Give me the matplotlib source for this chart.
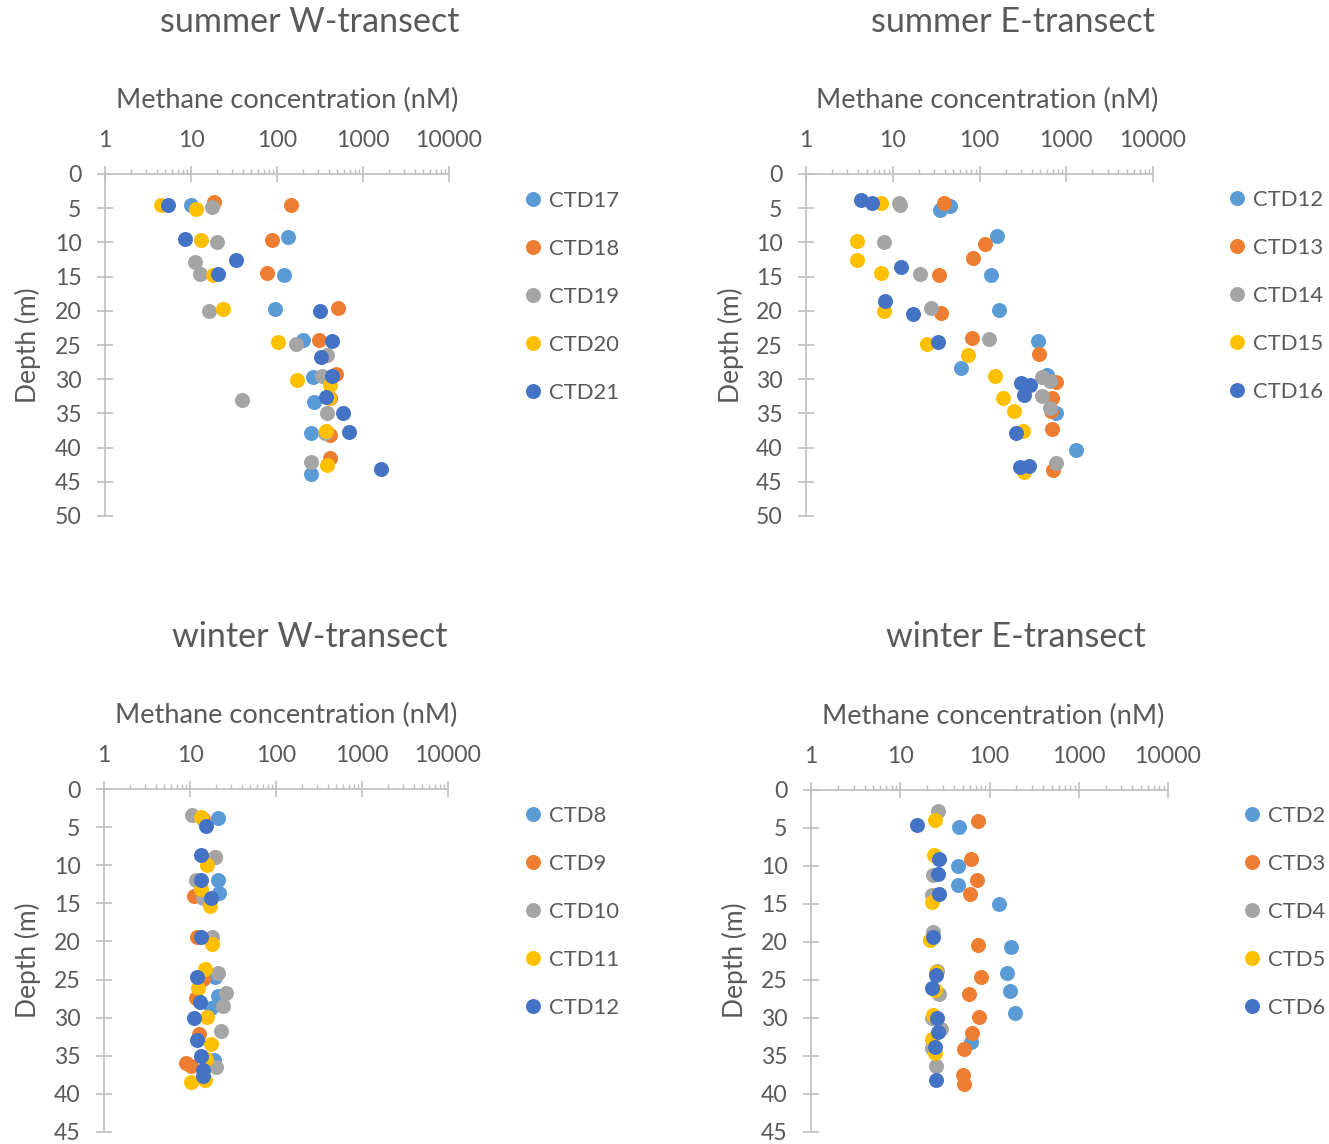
import matplotlib
matplotlib.use("Agg")
import matplotlib.pyplot as plt
from matplotlib.ticker import LogLocator, NullFormatter, FixedLocator, FixedFormatter

plt.rcParams['font.family'] = ['Lato', 'DejaVu Sans']

W, H = 1329, 1144
TXT = '#595959'
AX = '#BFBFBF'
COLORS = ['#5B9BD5', '#ED7D31', '#A5A5A5', '#FFC000', '#4472C4']

x_ticks = [1, 10, 100, 1000, 10000]
x_tick_labels = ['1', '10', '100', '1000', '10000']

# ---------------- summer W-transect ----------------
sw_names = ['CTD17', 'CTD18', 'CTD19', 'CTD20', 'CTD21']
sw_conc = [
    [10, 133, 122, 94, 202, 265, 270, 248, 246],
    [18.7, 147, 87, 76, 512, 311, 481, 413, 413, 413],
    [17.5, 20, 11.2, 12.8, 16.2, 166, 385, 336, 39.5, 385, 361, 248],
    [4.5, 11.4, 13.1, 17.9, 23.4, 103, 172, 413, 403, 372, 381],
    [5.35, 8.5, 33.7, 20.8, 316, 432, 325, 440, 368, 590, 693, 1620],
]
sw_depth = [
    [4.5, 9.25, 14.75, 19.8, 24.3, 29.7, 33.3, 37.9, 43.8],
    [4.1, 4.5, 9.6, 14.5, 19.6, 24.3, 29.3, 32.7, 38.1, 41.5],
    [4.8, 10.0, 12.8, 14.6, 20.0, 24.9, 26.5, 29.6, 33.0, 35.0, 37.9, 42.1],
    [4.5, 5.1, 9.6, 14.8, 19.8, 24.6, 30.1, 30.8, 32.7, 37.6, 42.6],
    [4.6, 9.5, 12.6, 14.6, 20.0, 24.4, 26.8, 29.6, 32.6, 34.9, 37.7, 43.1],
]

# ---------------- summer E-transect ----------------
se_names = ['CTD12', 'CTD13', 'CTD14', 'CTD15', 'CTD16']
se_conc = [
    [34.9, 45.5, 160, 136, 170, 475, 61, 593, 753, 1303],
    [38.8, 115, 83.8, 34, 35.8, 80.9, 484, 753, 678, 660, 689, 708],
    [11.7, 12.0, 7.9, 20.7, 27.7, 127, 528, 646, 528, 646, 753],
    [7.4, 3.9, 3.9, 7.4, 8.0, 24.9, 73, 150, 186, 253, 316, 322],
    [4.3, 5.8, 12.4, 8.1, 16.9, 32.8, 297, 381, 325, 267, 292, 371],
]
se_depth = [
    [5.2, 4.7, 9.1, 14.8, 19.9, 24.4, 28.3, 29.4, 35.0, 40.4],
    [4.3, 10.2, 12.3, 14.7, 20.3, 24.0, 26.3, 30.4, 32.7, 34.7, 37.3, 43.3],
    [4.2, 4.6, 10.0, 14.6, 19.6, 24.1, 29.7, 30.2, 32.5, 34.2, 42.2],
    [4.3, 9.75, 12.6, 14.5, 20.1, 24.9, 26.5, 29.5, 32.8, 34.7, 37.5, 43.6],
    [3.8, 4.3, 13.6, 18.5, 20.4, 24.5, 30.6, 30.8, 32.3, 37.8, 42.9, 42.7],
]

# ---------------- winter W-transect ----------------
ww_names = ['CTD8', 'CTD9', 'CTD10', 'CTD11', 'CTD12']
ww_conc = [
    [21.2, 21.2, 21.7, 19.4, 21.2, 17.7, 19.0],
    [14.0, 19.5, 11.1, 12.1, 14.2, 11.6, 12.7, 9.1, 10.3],
    [10.5, 19.4, 11.6, 14.2, 18.0, 21.2, 26.4, 24.2, 22.8, 19.9],
    [13.5, 15.9, 13.3, 16.9, 18.2, 14.8, 12.4, 15.8, 17.7, 15.5, 10.4, 14.8],
    [15.2, 13.5, 13.5, 17.7, 13.3, 12.2, 13.2, 11.0, 12.1, 13.5, 14.2, 14.2],
]
ww_depth = [
    [3.8, 12.0, 13.7, 24.7, 27.1, 28.7, 35.5],
    [3.9, 8.9, 14.1, 19.4, 24.9, 27.4, 32.1, 36.0, 36.3],
    [3.4, 8.9, 11.9, 14.3, 19.4, 24.2, 26.7, 28.5, 31.7, 36.5],
    [3.7, 10.0, 13.1, 15.4, 20.4, 23.6, 26.1, 29.9, 33.4, 35.4, 38.4, 38.2],
    [4.8, 8.7, 11.9, 14.3, 19.4, 24.6, 27.9, 30.0, 32.9, 35.0, 36.9, 37.6],
]

# ---------------- winter E-transect ----------------
we_names = ['CTD2', 'CTD3', 'CTD4', 'CTD5', 'CTD6']
we_conc = [
    [45.2, 44, 44.8, 128, 174, 158, 171, 191, 62],
    [73.7, 62, 71.8, 60.5, 75, 80.3, 58.9, 76.3, 63, 51.8, 51, 51.8],
    [26.3, 23.1, 22.5, 23.5, 25.6, 27.5, 22.5, 28.4, 22.5, 25.2],
    [24.8, 24.1, 22.5, 21.6, 25.2, 24.5, 23.5, 22.5, 24.5],
    [15.3, 27.5, 26.3, 27.2, 23.5, 25.2, 22.9, 25.6, 26.3, 24.5, 25.0],
]
we_depth = [
    [4.9, 10.0, 12.5, 15.0, 20.7, 24.1, 26.4, 29.4, 33.2],
    [4.1, 9.1, 11.9, 13.7, 20.4, 24.6, 26.8, 29.9, 32.0, 34.1, 37.5, 38.7],
    [2.8, 11.2, 13.8, 18.7, 23.8, 26.8, 30.0, 31.4, 33.9, 36.3],
    [4.0, 8.5, 14.8, 19.8, 23.9, 26.3, 29.6, 32.7, 34.6],
    [4.6, 9.1, 11.1, 13.7, 19.3, 24.3, 26.1, 30.0, 31.9, 33.8, 38.1],
]

panels = [
    dict(title='summer W-transect', names=sw_names, conc=sw_conc, depth=sw_depth,
         box=(105, 174, 449, 516), ymax=50, title_xy=(310, 22), xlabel_xy=(287, 100),
         ylabel_xy=(28, 345), leg_xy=(524, 297)),
    dict(title='summer E-transect', names=se_names, conc=se_conc, depth=se_depth,
         box=(806, 174, 1153, 516), ymax=50, title_xy=(1013, 22), xlabel_xy=(987, 100),
         ylabel_xy=(731, 345), leg_xy=(1228, 296)),
    dict(title='winter W-transect', names=ww_names, conc=ww_conc, depth=ww_depth,
         box=(104, 789, 448, 1132), ymax=45, title_xy=(310, 637), xlabel_xy=(286, 715),
         ylabel_xy=(28, 960), leg_xy=(524, 912)),
    dict(title='winter E-transect', names=we_names, conc=we_conc, depth=we_depth,
         box=(811, 790, 1168, 1132), ymax=45, title_xy=(1016, 637), xlabel_xy=(993, 716),
         ylabel_xy=(735, 960), leg_xy=(1243, 912)),
]

fig = plt.figure(figsize=(W / 100, H / 100), dpi=100)

for p in panels:
    x0, y0, x1, y1 = p['box']
    ax = fig.add_axes([x0 / W, 1 - y1 / H, (x1 - x0) / W, (y1 - y0) / H])
    ax.set_xscale('log')
    ax.set_xlim(1, 10000)
    ax.set_ylim(p['ymax'], 0)
    for i, name in enumerate(p['names']):
        ax.plot(p['conc'][i], p['depth'][i], 'o', color=COLORS[i], ms=10.8,
                mew=0, label=name, clip_on=False, zorder=3 + i)
    for s in ['right', 'bottom']:
        ax.spines[s].set_visible(False)
    for s in ['left', 'top']:
        ax.spines[s].set_color(AX)
        ax.spines[s].set_linewidth(1.2)
    ax.patch.set_alpha(0)
    ax.xaxis.tick_top()
    ax.xaxis.set_major_locator(FixedLocator(x_ticks))
    ax.xaxis.set_major_formatter(FixedFormatter(x_tick_labels))
    ax.xaxis.set_minor_locator(LogLocator(base=10, subs=range(2, 10), numticks=20))
    ax.xaxis.set_minor_formatter(NullFormatter())
    ax.set_yticks(list(range(0, p['ymax'] + 1, 5)))
    ax.tick_params(axis='x', which='major', direction='inout', length=11, width=1.2,
                   color=AX, labelcolor=TXT, labelsize=16.6, pad=11)
    ax.tick_params(axis='x', which='minor', direction='out', length=3.8, width=1.0,
                   color=AX)
    ax.tick_params(axis='y', which='major', direction='inout', length=12, width=1.2,
                   color=AX, labelcolor=TXT, labelsize=16.6, pad=11)
    # axis labels
    ax.set_xlabel('Methane concentration (nM)', fontsize=19.6, color=TXT)
    ax.xaxis.set_label_position('top')
    ax.xaxis.label.set_verticalalignment('center')
    ax.xaxis.set_label_coords((p['xlabel_xy'][0] - x0) / (x1 - x0),
                              (y1 - p['xlabel_xy'][1]) / (y1 - y0))
    ax.set_ylabel('Depth (m)', fontsize=19, color=TXT)
    ax.yaxis.label.set_horizontalalignment('center')
    ax.yaxis.label.set_verticalalignment('center')
    ax.yaxis.set_label_coords((p['ylabel_xy'][0] - x0) / (x1 - x0),
                              (y1 - p['ylabel_xy'][1]) / (y1 - y0))
    ax.text((p['title_xy'][0] - x0) / (x1 - x0), (y1 - p['title_xy'][1]) / (y1 - y0),
            p['title'], transform=ax.transAxes, ha='center', va='center',
            fontsize=24.6, color=TXT)
    lx, ly = p['leg_xy']
    ax.legend(loc='center left', bbox_to_anchor=(lx / W, 1 - ly / H),
              bbox_transform=fig.transFigure, frameon=False, fontsize=15.8,
              labelcolor=TXT, handlelength=0.8, handletextpad=0.33,
              labelspacing=1.28, borderpad=0, borderaxespad=0, markerscale=1.0)

fig.savefig('out.png', dpi=100)
